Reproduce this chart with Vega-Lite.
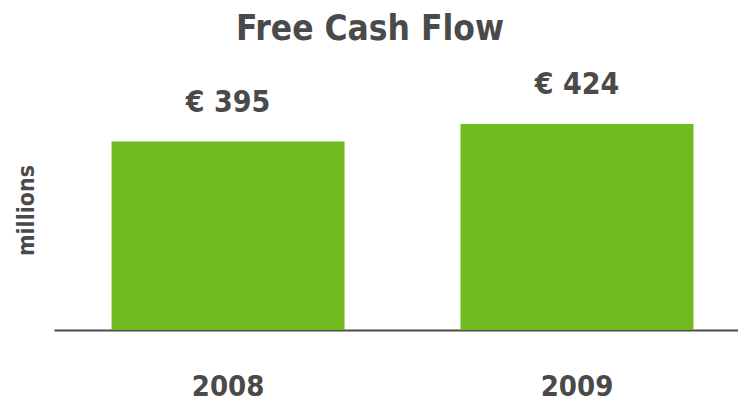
{
  "$schema": "https://vega.github.io/schema/vega-lite/v6.json",
  "autosize": "none",
  "padding": {"left": 54, "top": 70, "right": 0, "bottom": 71},
  "width": 684,
  "height": 260,
  "background": "white",
  "title": {
    "text": "Free Cash Flow",
    "font": "DejaVu Sans Condensed",
    "fontWeight": "bold",
    "fontSize": 35,
    "color": "#4a4a4a",
    "anchor": "middle",
    "baseline": "alphabetic",
    "offset": 31,
    "dy": 36,
    "dx": -26
  },
  "data": {
    "values": [
      {"year": "2008", "value": 395, "label": "€ 395"},
      {"year": "2009", "value": 424, "label": "€ 424"}
    ]
  },
  "encoding": {
    "x": {
      "field": "year",
      "type": "nominal",
      "scale": {"paddingInner": 0.3324, "paddingOuter": 0.1462, "align": 0.564},
      "axis": {
        "title": null,
        "labelAngle": 0,
        "ticks": false,
        "tickSize": 0,
        "grid": false,
        "domainColor": "#4a4a4a",
        "domainWidth": 2,
        "labelFont": "DejaVu Sans Condensed",
        "labelFontWeight": "bold",
        "labelFontSize": 29,
        "labelColor": "#4a4a4a",
        "labelBaseline": "alphabetic",
        "labelPadding": 65
      }
    },
    "y": {
      "field": "value",
      "type": "quantitative",
      "scale": {"domain": [86.3, 512.3], "zero": false, "nice": false},
      "axis": {
        "title": "millions",
        "domain": false,
        "ticks": false,
        "labels": false,
        "grid": false,
        "titleFont": "DejaVu Sans Condensed",
        "titleFontWeight": "bold",
        "titleFontSize": 23,
        "titleColor": "#4a4a4a",
        "titleAngle": -90,
        "titleBaseline": "alphabetic",
        "titleAlign": "center",
        "titleX": -21,
        "titleY": 140
      }
    }
  },
  "layer": [
    {
      "mark": {"type": "bar", "color": "#6eba1f"},
      "encoding": {"y2": {"datum": 86.3}}
    },
    {
      "mark": {
        "type": "text",
        "baseline": "alphabetic",
        "dy": -30,
        "font": "DejaVu Sans Condensed",
        "fontWeight": "bold",
        "fontSize": 30,
        "color": "#4a4a4a"
      },
      "encoding": {"text": {"field": "label"}}
    }
  ],
  "config": {"view": {"stroke": null}}
}
